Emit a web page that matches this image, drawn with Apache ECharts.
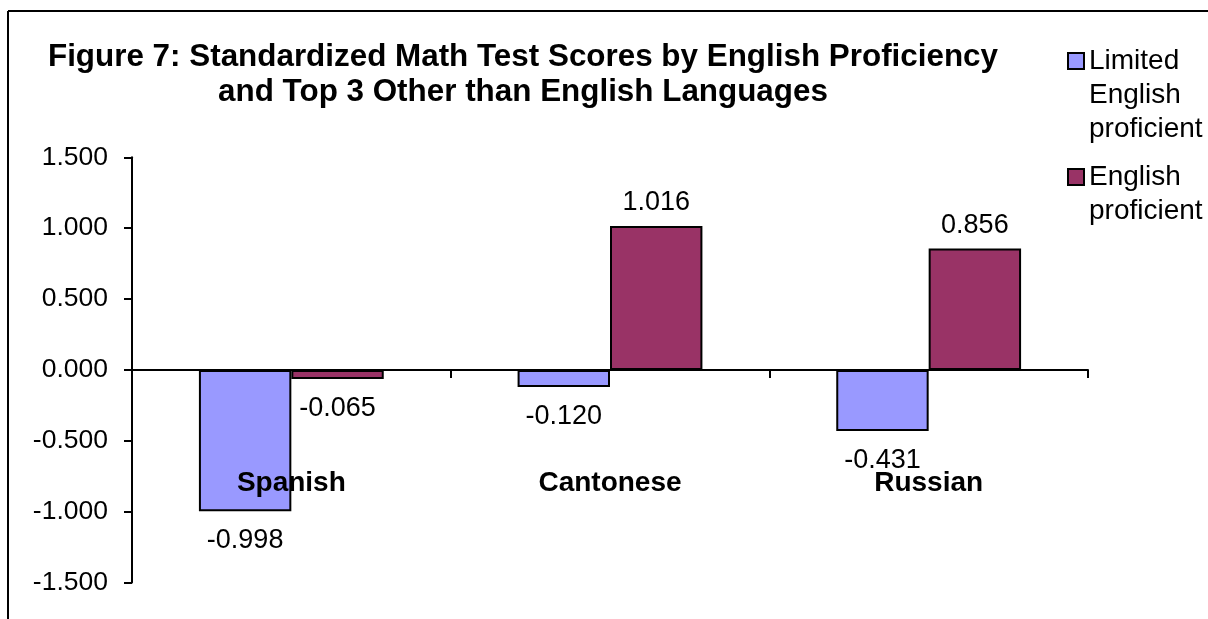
<!DOCTYPE html>
<html><head><meta charset="utf-8">
<script src="https://cdn.jsdelivr.net/npm/echarts@6/dist/echarts.min.js"></script>
<style>html,body{margin:0;padding:0;background:#fff}#c{width:1208px;height:619px}</style>
</head><body><div id="c"></div>
<script>
const titleLines = ['Figure 7: Standardized Math Test Scores by English Proficiency', 'and Top 3 Other than English Languages'];
const categories = ['Spanish', 'Cantonese', 'Russian'];
const seriesNames = ['Limited English proficient', 'English proficient'];
const legendLabels = [['Limited', 'English', 'proficient'], ['English', 'proficient']];
const limitedValues = [-0.998, -0.120, -0.431];
const proficientValues = [-0.065, 1.016, 0.856];
const yTicks = { min: -1.5, max: 1.5, step: 0.5 };
const colors = ['#9999FF', '#993366'];

const FONT = '"Liberation Sans", Arial, sans-serif';
const valuesList = [limitedValues, proficientValues];

// legend text: blank lines above so the first line sits beside the icon
function legendText(name) {
  const lines = legendLabels[seriesNames.indexOf(name)];
  const pad = new Array(lines.length - 1).fill('');
  return pad.concat(lines).join('\n');
}

const chart = echarts.init(document.getElementById('c'), null, { renderer: 'canvas' });
const option = {
  animation: false,
  backgroundColor: '#fff',
  textStyle: { fontFamily: FONT, color: '#000' },
  title: {
    text: titleLines.join('\n'),
    left: 523, top: 39.5, textAlign: 'center', padding: 0,
    textStyle: { fontFamily: FONT, fontSize: 31.4, fontWeight: 'bold', lineHeight: 35, color: '#000' }
  },
  legend: [0, 1].map(i => ({
    orient: 'vertical',
    left: 1067,
    top: i === 0 ? -24 : 126,
    padding: 0,
    itemGap: 0,
    itemWidth: 16,
    itemHeight: 16,
    icon: 'rect',
    selectedMode: false,
    data: [seriesNames[i]],
    formatter: legendText,
    textStyle: { fontFamily: FONT, fontSize: 28, lineHeight: 34, color: '#000' }
  })),
  grid: { left: 132, right: 120, top: 157.3, bottom: 36.5, containLabel: false, outerBoundsMode: 'none' },
  xAxis: [{
    type: 'category',
    data: categories,
    axisLine: { show: true, onZero: true, lineStyle: { color: '#000', width: 2 } },
    axisTick: { show: true, length: 8, interval: 0, alignWithLabel: false, lineStyle: { color: '#000', width: 2 } },
    axisLabel: { show: false },
    splitLine: { show: false }
  }, {
    type: 'category',
    data: categories,
    position: 'bottom',
    offset: -113,
    z: 10,
    axisLine: { show: false, onZero: false },
    axisTick: { show: false },
    axisLabel: { show: true, margin: 0, fontFamily: FONT, fontSize: 28, fontWeight: 'bold', color: '#000', interval: 0 },
    splitLine: { show: false }
  }],
  yAxis: {
    type: 'value',
    min: yTicks.min, max: yTicks.max, interval: yTicks.step,
    axisLine: { show: true, lineStyle: { color: '#000', width: 2 } },
    axisTick: { show: true, length: 8, lineStyle: { color: '#000', width: 2 } },
    axisLabel: { margin: 24, fontFamily: FONT, fontSize: 26.5, color: '#000', formatter: v => v.toFixed(3) },
    splitLine: { show: false }
  },
  series: [0, 1].map(i => ({
    type: 'bar',
    name: seriesNames[i],
    xAxisIndex: 0,
    barGap: '0%',
    barCategoryGap: '42%',
    itemStyle: { color: colors[i], borderColor: '#000', borderWidth: 2 },
    label: { show: true, fontFamily: FONT, fontSize: 27, color: '#000', formatter: p => Number(p.value).toFixed(3) },
    data: valuesList[i].map(v => ({ value: v, label: { position: v < 0 ? 'bottom' : 'top', distance: v < 0 ? 16 : 10 } }))
  })),
  graphic: [
    { type: 'line', shape: { x1: 8, y1: 11, x2: 1208, y2: 11 }, style: { stroke: '#000', lineWidth: 2 }, silent: true },
    { type: 'line', shape: { x1: 8, y1: 11, x2: 8, y2: 619 }, style: { stroke: '#000', lineWidth: 2 }, silent: true }
  ]
};
chart.setOption(option);
</script>
</body></html>
